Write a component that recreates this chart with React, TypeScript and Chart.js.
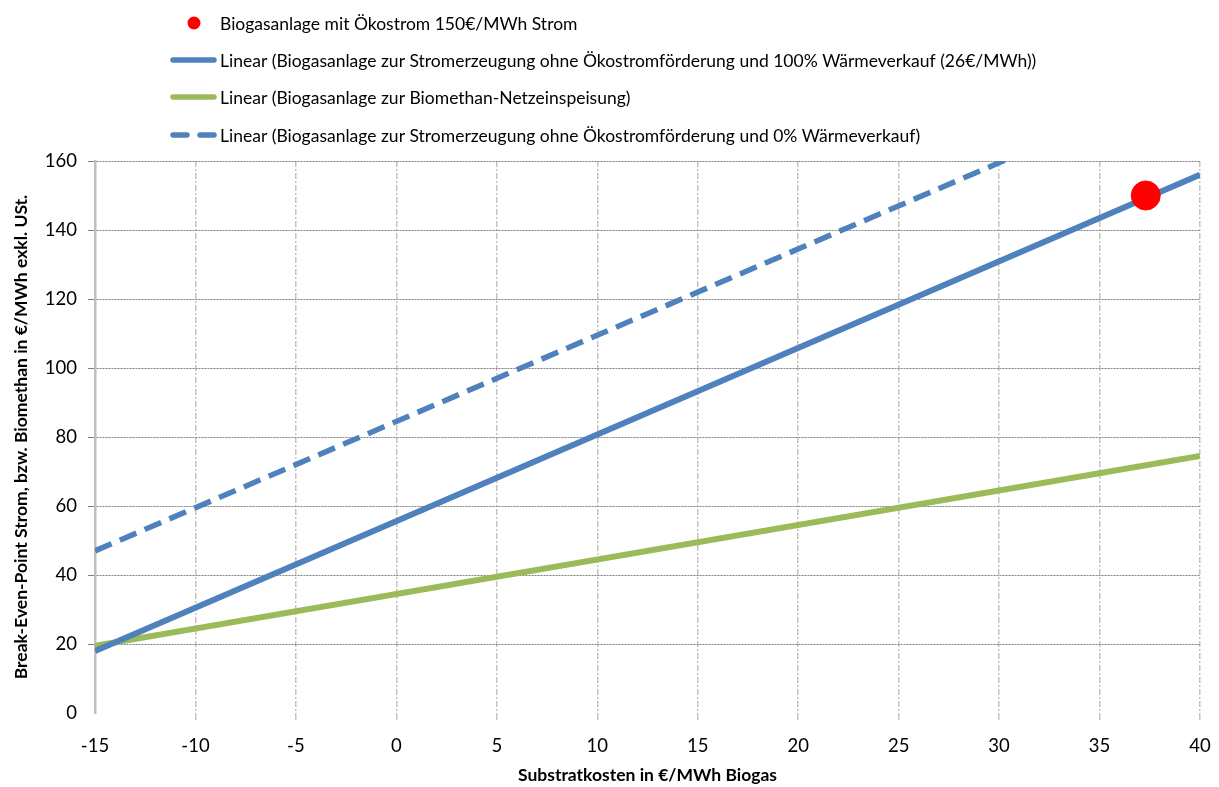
import { useEffect, useRef } from 'react';
import { Chart, registerables } from 'chart.js';
Chart.register(...registerables);

// ---- data ----
const xEnds = [-15, 40];
const strom100Y = [18, 156];
const biomethanY = [19.5, 74.5];
const strom0Y = [47, 184.5];
const pointX = [37.3];
const pointY = [150];
const xTickValues = [-15, -10, -5, 0, 5, 10, 15, 20, 25, 30, 35, 40];
const yTickValues = [0, 20, 40, 60, 80, 100, 120, 140, 160];
const seriesLabels = [
  'Biogasanlage mit Ökostrom 150€/MWh Strom',
  'Linear (Biogasanlage zur Stromerzeugung ohne Ökostromförderung und 100% Wärmeverkauf (26€/MWh))',
  'Linear (Biogasanlage zur Biomethan-Netzeinspeisung)',
  'Linear (Biogasanlage zur Stromerzeugung ohne Ökostromförderung und 0% Wärmeverkauf)',
];
const xTitle = 'Substratkosten in €/MWh Biogas';
const yTitle = 'Break-Even-Point Strom, bzw. Biomethan in €/MWh exkl. USt.';

const BLUE = '#4F81BD';
const GREEN = '#9BBB59';
const RED = '#FF0000';
const FONT = 'Lato, "Open Sans", sans-serif';

const legendPlugin = {
  id: 'stackedLegend',
  afterDraw(chart: any) {
    const ctx = chart.ctx;
    const x0 = 170;
    const sampleEnd = 217;
    const textX = 220;
    const rows = [23, 60, 97, 135];
    ctx.save();
    ctx.font = `17.5px ${FONT}`;
    ctx.textBaseline = 'middle';
    ctx.textAlign = 'left';
    rows.forEach((y, i) => {
      if (i === 0) {
        ctx.beginPath();
        ctx.fillStyle = RED;
        ctx.arc(194, y, 6.5, 0, Math.PI * 2);
        ctx.fill();
      } else {
        ctx.beginPath();
        ctx.strokeStyle = i === 2 ? GREEN : BLUE;
        ctx.lineWidth = 5.5;
        ctx.lineCap = 'round';
        ctx.setLineDash(i === 3 ? [14, 13] : []);
        ctx.moveTo(x0 + 3, y);
        ctx.lineTo(sampleEnd - 3, y);
        ctx.stroke();
        ctx.setLineDash([]);
      }
      ctx.fillStyle = '#000';
      ctx.fillText(seriesLabels[i], textX, y + 1);
    });
    ctx.restore();
  },
};

export default function App() {
  const ref = useRef<HTMLCanvasElement>(null);
  useEffect(() => {
    const line = (ys: number[]) => xEnds.map((x, i) => ({ x, y: ys[i] }));
    const chart = new Chart(ref.current!, {
      type: 'scatter',
      data: {
        datasets: [
          {
            label: seriesLabels[0],
            data: pointX.map((x, i) => ({ x, y: pointY[i] })),
            backgroundColor: RED,
            borderColor: RED,
            pointRadius: 14.5,
            pointHoverRadius: 14.5,
            order: 0,
          },
          {
            label: seriesLabels[1],
            type: 'line',
            data: line(strom100Y),
            borderColor: BLUE,
            borderWidth: 6,
            pointRadius: 0,
            showLine: true,
            order: 1,
          },
          {
            label: seriesLabels[2],
            type: 'line',
            data: line(biomethanY),
            borderColor: GREEN,
            borderWidth: 6,
            pointRadius: 0,
            showLine: true,
            order: 2,
          },
          {
            label: seriesLabels[3],
            type: 'line',
            data: line(strom0Y),
            borderColor: BLUE,
            borderWidth: 5.5,
            borderDash: [18, 9],
            pointRadius: 0,
            showLine: true,
            order: 3,
          },
        ] as any,
      },
      options: {
        animation: false,
        responsive: false,
        layout: { padding: { top: 161, left: 0, right: 19, bottom: 0 } },
        plugins: { legend: { display: false }, tooltip: { enabled: false } },
        scales: {
          x: {
            type: 'linear',
            min: -15,
            max: 40,
            afterFit: (s: any) => {
              s.height = 74;
              s.paddingLeft = 0;
              s.paddingRight = 0;
            },
            afterBuildTicks: (s: any) => { s.ticks = xTickValues.map((v) => ({ value: v })); },
            ticks: { font: { family: FONT, size: 18.5 }, color: '#000', padding: 15, maxRotation: 0 },
            grid: {
              color: (c: any) => (c.tick && c.tick.value === -15 ? 'rgba(0,0,0,0)' : '#C4C4C4'),
              lineWidth: 1.5,
              tickLength: 7,
            },
            border: { display: false, dash: [6, 2, 2, 2] },
            title: {
              display: true,
              text: xTitle,
              font: { family: FONT, size: 17.5, weight: 'bold' },
              color: '#000',
              padding: { top: 0, bottom: 1 },
            },
          },
          y: {
            type: 'linear',
            min: 0,
            max: 160,
            afterFit: (s: any) => {
              s.width = 95;
              s.paddingTop = 0;
              s.paddingBottom = 0;
            },
            afterBuildTicks: (s: any) => { s.ticks = yTickValues.map((v) => ({ value: v })); },
            ticks: { font: { family: FONT, size: 18.5 }, color: '#000', padding: 11 },
            grid: {
              color: (c: any) => (c.tick && c.tick.value === 0 ? 'rgba(0,0,0,0)' : '#7F7F7F'),
              lineWidth: 1,
              tickLength: 7,
            },
            border: { display: true, color: '#C0C0C0', width: 2.5, dash: [2, 1] },
            title: {
              display: true,
              text: yTitle,
              font: { family: FONT, size: 17.5, weight: 'bold' },
              color: '#000',
              padding: { top: 11, bottom: 0 },
            },
          },
        },
      } as any,
      plugins: [legendPlugin],
    });
    return () => chart.destroy();
  }, []);
  return (
    <div style={{ position: 'absolute', left: 0, top: 0, width: 1219, height: 787 }}>
      <canvas ref={ref} width={1219} height={787} style={{ display: 'block' }} />
    </div>
  );
}
